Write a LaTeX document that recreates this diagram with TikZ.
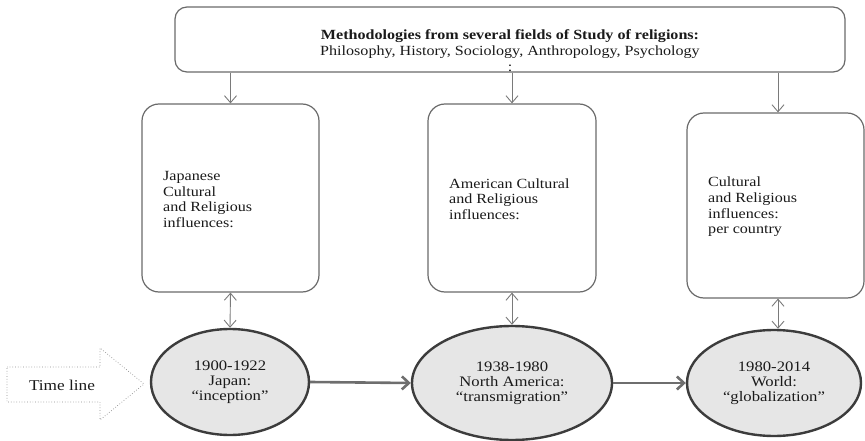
\documentclass[tikz,border=0pt]{standalone}
\usepackage{fontspec}
\setmainfont{Liberation Serif}[FakeStretch=1.15]
\usetikzlibrary{arrows.meta,shapes.geometric}

\definecolor{ink}{HTML}{1A1A1A}
\definecolor{boxgray}{HTML}{6A6A6A}
\definecolor{linegray}{HTML}{7A7A7A}
\definecolor{ringgray}{HTML}{3C3C3C}
\definecolor{flowgray}{HTML}{6E6E6E}
\definecolor{erafill}{HTML}{E6E6E6}
\definecolor{dotgray}{HTML}{8C8C8C}

\tikzset{
  frame/.style={draw=boxgray, line width=1.2pt, rounded corners=17pt,
    inner sep=0pt, fill=white},
  topframe/.style={frame, rounded corners=12pt},
  boxtext/.style={anchor=west, align=left, inner sep=0pt, text=ink,
    font=\fontsize{14}{15.7}\selectfont},
  era/.style={ellipse, draw=ringgray, line width=2.4pt, fill=erafill,
    inner sep=0pt, align=center, text=ink,
    font=\fontsize{14.5}{14.8}\selectfont},
  feed/.style={draw=linegray, line width=0.9pt,
    -{Straight Barb[length=7pt,width=12pt]}},
  link/.style={draw=linegray, line width=0.9pt,
    {Straight Barb[length=7pt,width=12pt]}-{Straight Barb[length=7pt,width=12pt]}},
  flow/.style={draw=flowgray, line width=2.6pt,
    -{Straight Barb[length=7pt,width=13pt]}},
  blockarrow/.style={draw=dotgray, line width=0.7pt, dotted},
}

\begin{document}
\begin{tikzpicture}[x=1pt, y=-1pt]
  \useasboundingbox (0,0) rectangle (865,441);

  % methodologies banner
  \node[topframe, minimum width=670pt, minimum height=65pt] (top) at (510,39.5) {};
  \node[align=center, inner sep=0pt, text=ink,
        font=\fontsize{14}{16}\selectfont] (toptext) at (510,51)
    {\textbf{Methodologies from several fields of Study of religions:}\\
     Philosophy, History, Sociology, Anthropology, Psychology\\
     :};

  % influence boxes
  \node[frame, minimum width=177pt, minimum height=188pt] (b1) at (230.5,198) {};
  \node[frame, minimum width=168pt, minimum height=188pt] (b2) at (512,198) {};
  \node[frame, minimum width=177pt, minimum height=185pt] (b3) at (775.5,205.5) {};

  \node[boxtext] (t1) at (163,199.5)
    {Japanese\\Cultural\\and Religious\\influences:};
  \node[boxtext] (t2) at (449,199)
    {American Cultural\\and Religious\\influences:};
  \node[boxtext] (t3) at (708,207)
    {Cultural\\and Religious\\influences:\\per country};

  % periods on the time line
  \node[era, minimum width=158pt, minimum height=106pt] (e1) at (230,382)
    {1900-1922\\Japan:\\“inception”};
  \node[era, minimum width=200pt, minimum height=114pt] (e2) at (512,383)
    {1938-1980\\North America:\\“transmigration”};
  \node[era, minimum width=174pt, minimum height=106pt] (e3) at (774,383)
    {1980-2014\\World:\\“globalization”};

  % time line block arrow
  \draw[blockarrow] (7,367) -- (100,367) -- (100,348) -- (144,384)
    -- (100,420) -- (100,402) -- (7,402) -- cycle;
  \node[inner sep=0pt, text=ink, font=\fontsize{15}{17}\selectfont] (tl) at (62,385) {Time line};

  % entry points on the third box, a little right of its centre
  \coordinate (b3n) at ([xshift=2.5pt]b3.north);
  \coordinate (b3s) at ([xshift=2.5pt]b3.south);

  % banner feeds each box
  \draw[feed] (b1.north |- top.south) -- (b1.north);
  \draw[feed] (b2.north |- top.south) -- (b2.north);
  \draw[feed] (b3n |- top.south) -- (b3n);

  % boxes linked with their periods
  \draw[link] (b1.south) -- (e1.north);
  \draw[link] (b2.south) -- (e2.north);
  \draw[link] (b3s) -- (b3s |- e3.north);

  % progression between periods
  \draw[flow] (e1.east) -- (e2.west);
  \draw[flow] (e2.east) -- (e3.west);
\end{tikzpicture}
\end{document}
